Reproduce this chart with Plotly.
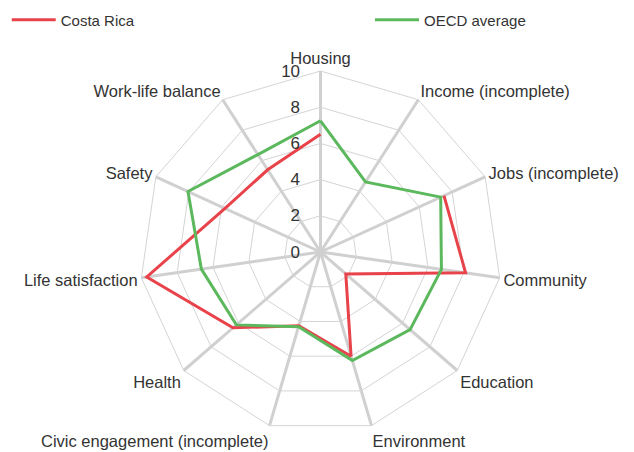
import plotly.graph_objects as go

categories = ["Housing", "Income (incomplete)", "Jobs (incomplete)", "Community",
              "Education", "Environment", "Civic engagement (incomplete)", "Health",
              "Life satisfaction", "Safety", "Work-life balance"]
costa_rica = [6.5, None, 7.5, 8.1, 1.85, 6.0, 4.25, 6.4, 9.7, 5.8, 5.4]
oecd_average = [7.25, 4.6, 7.3, 6.75, 6.55, 6.25, 4.3, 6.15, 6.65, 8.05, 6.4]
radial_ticks = [0, 2, 4, 6, 8, 10]

RED = "#e8434a"
GREEN = "#5cb85c"
FONT = "Liberation Sans, Arial, sans-serif"
TXT = "#333333"

def closed(vals):
    return vals + [vals[0]]

fig = go.Figure()
fig.add_trace(go.Scatterpolar(
    r=closed(costa_rica), theta=closed(categories), mode="lines",
    name="Costa Rica", line=dict(color=RED, width=3), legend="legend",
    showlegend=True))
fig.add_trace(go.Scatterpolar(
    r=closed(oecd_average), theta=closed(categories), mode="lines",
    name="OECD average", line=dict(color=GREEN, width=3), legend="legend2",
    showlegend=True))

fig.update_layout(
    width=634, height=452,
    margin=dict(l=0, r=0, t=0, b=0, autoexpand=False),
    paper_bgcolor="white",
    showlegend=True,
    font=dict(family=FONT, size=16.5, color=TXT),
    polar=dict(
        domain=dict(x=[0.2074, 0.7784], y=[0.0598, 0.8606]),
        bgcolor="white",
        gridshape="linear",
        radialaxis=dict(range=[0, 10], tickvals=radial_ticks, angle=90,
                        side="counterclockwise", tickangle=90,
                        showline=False, ticks="outside", ticklen=14,
                        tickcolor="rgba(0,0,0,0)",
                        gridcolor="#d4d4d4", gridwidth=1,
                        tickfont=dict(size=17, color=TXT)),
        angularaxis=dict(rotation=90, direction="clockwise", ticks="",
                         showline=True, linecolor="#d4d4d4", linewidth=1,
                         gridcolor="#d0d0d0", gridwidth=3,
                         tickfont=dict(size=16.5, color=TXT)),
    ),
    legend=dict(x=-0.002, y=1.01, xanchor="left", yanchor="top",
                orientation="h", itemwidth=44,
                font=dict(size=15, color=TXT), bgcolor="rgba(0,0,0,0)"),
    legend2=dict(x=0.571, y=1.01, xanchor="left", yanchor="top",
                 orientation="h", itemwidth=44,
                 font=dict(size=15, color=TXT), bgcolor="rgba(0,0,0,0)"),
)

fig.write_html("out.html")
